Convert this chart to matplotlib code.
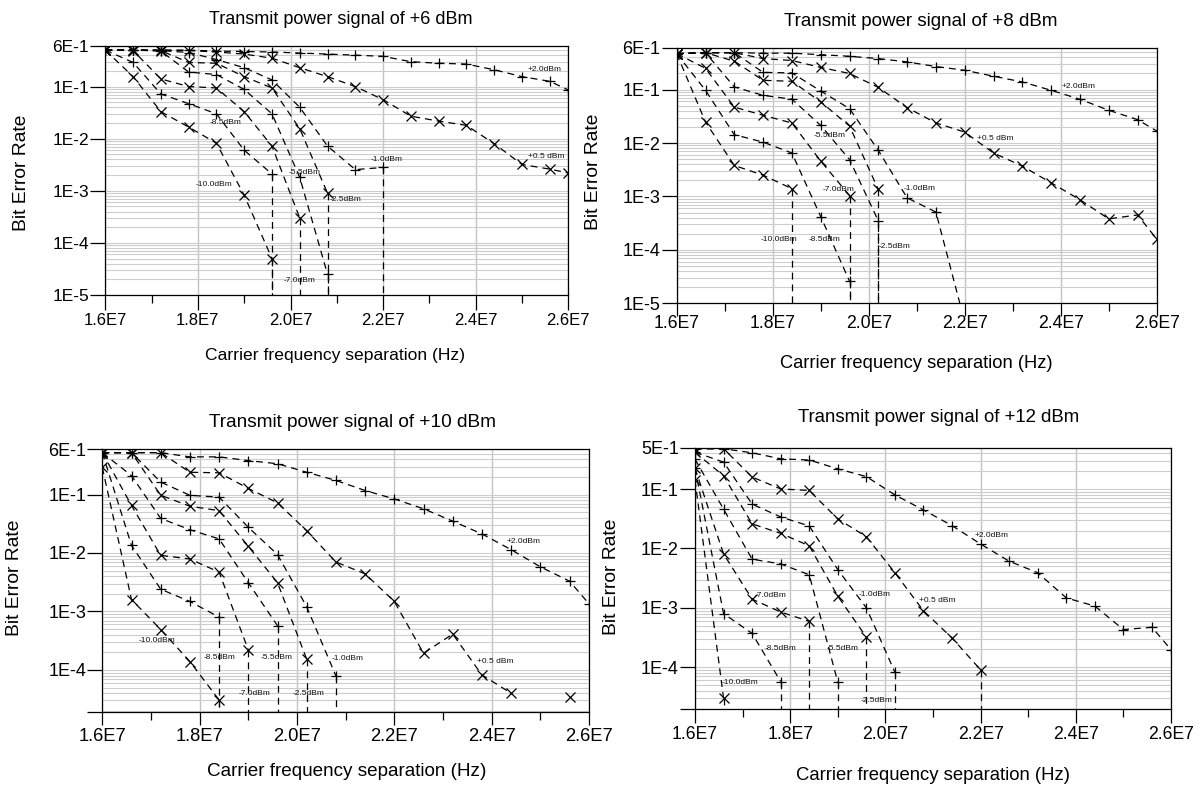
import numpy as np
import matplotlib
matplotlib.use("Agg")
import matplotlib.pyplot as plt
from matplotlib.ticker import FixedLocator, MultipleLocator, LogLocator, NullFormatter

plt.rcParams['font.family'] = ['Liberation Sans', 'DejaVu Sans']

# Carrier frequency separation sweep (Hz)
FREQ_HZ = [1.60e7, 1.66e7, 1.72e7, 1.78e7, 1.84e7, 1.90e7, 1.96e7, 2.02e7, 2.08e7,
           2.14e7, 2.20e7, 2.26e7, 2.32e7, 2.38e7, 2.44e7, 2.50e7, 2.56e7, 2.60e7]

# Interferer power of each curve, and its marker
POWER_LABELS = ["+2.0dBm", "+0.5 dBm", "-1.0dBm", "-2.5dBm",
                "-5.5dBm", "-7.0dBm", "-8.5dBm", "-10.0dBm"]
MARKERS = ["+", "x", "+", "x", "+", "x", "+", "x"]

X_TICKS = [1.6e7, 1.8e7, 2.0e7, 2.2e7, 2.4e7, 2.6e7]
X_TICK_LABELS = ["1.6E7", "1.8E7", "2.0E7", "2.2E7", "2.4E7", "2.6E7"]

# Bit error rate per curve; a curve that stops early fell to zero errors
BER_TX6 = [
    [0.50, 0.50, 0.50, 0.50, 0.48, 0.47, 0.46, 0.44, 0.42, 0.40, 0.38, 0.30, 0.28, 0.27, 0.21, 0.155, 0.126, 0.086],
    [0.50, 0.50, 0.50, 0.49, 0.46, 0.42, 0.35, 0.23, 0.155, 0.10, 0.056, 0.027, 0.0217, 0.018, 0.008, 0.0032, 0.0026, 0.0022],
    [0.50, 0.50, 0.49, 0.45, 0.33, 0.23, 0.134, 0.040, 0.0072, 0.00255, 0.0028],
    [0.50, 0.50, 0.49, 0.29, 0.28, 0.155, 0.094, 0.0155, 0.0009],
    [0.50, 0.50, 0.48, 0.19, 0.17, 0.088, 0.030, 0.0018, 2.5e-5],
    [0.50, 0.49, 0.14, 0.10, 0.094, 0.033, 0.0072, 0.0003],
    [0.50, 0.29, 0.072, 0.047, 0.030, 0.006, 0.0021],
    [0.50, 0.155, 0.033, 0.0167, 0.0082, 0.00082, 5e-5],
]
BER_TX8 = [
    [0.47, 0.49, 0.49, 0.48, 0.48, 0.45, 0.42, 0.38, 0.33, 0.27, 0.23, 0.178, 0.139, 0.097, 0.066, 0.041, 0.0274, 0.0168],
    [0.47, 0.49, 0.49, 0.38, 0.35, 0.26, 0.20, 0.11, 0.046, 0.0237, 0.016, 0.0065, 0.0037, 0.0018, 0.00087, 0.00038, 0.00045, 0.00016],
    [0.47, 0.49, 0.49, 0.21, 0.205, 0.094, 0.044, 0.0073, 0.00094, 0.00051, 4.5e-6],
    [0.47, 0.49, 0.34, 0.149, 0.143, 0.059, 0.0208, 0.00135],
    [0.47, 0.49, 0.112, 0.078, 0.066, 0.0214, 0.0049, 0.00035],
    [0.47, 0.25, 0.047, 0.033, 0.0237, 0.0046, 0.00104],
    [0.47, 0.097, 0.0143, 0.0104, 0.0065, 0.00042, 2.6e-5],
    [0.47, 0.0247, 0.0038, 0.0025, 0.0014],
]
BER_TX10 = [
    [0.52, 0.52, 0.52, 0.44, 0.44, 0.38, 0.336, 0.24, 0.174, 0.117, 0.084, 0.057, 0.035, 0.0212, 0.0114, 0.0058, 0.0033, 0.00135],
    [0.52, 0.52, 0.52, 0.24, 0.235, 0.127, 0.072, 0.024, 0.007, 0.0044, 0.00148, 0.000193, 0.00041, 8.2e-5, 4e-5, None, 3.5e-5, None],
    [0.52, 0.52, 0.163, 0.097, 0.09, 0.0275, 0.0094, 0.0012, 7.9e-5],
    [0.52, 0.52, 0.097, 0.063, 0.053, 0.013, 0.0031, 0.000152],
    [0.52, 0.21, 0.039, 0.025, 0.0174, 0.0031, 0.00057],
    [0.52, 0.065, 0.0091, 0.0079, 0.0047, 0.00022],
    [0.52, 0.0135, 0.0024, 0.00148, 0.0008],
    [0.29, 0.0016, 0.00049, 0.000139, 3.06e-5],
]
BER_TX12 = [
    [0.48, 0.48, 0.41, 0.325, 0.31, 0.22, 0.163, 0.08, 0.0446, 0.0243, 0.0119, 0.0061, 0.0039, 0.00147, 0.00107, 0.00043, 0.00047, 0.000197],
    [0.48, 0.48, 0.16, 0.101, 0.095, 0.0315, 0.0158, 0.0039, 0.00089, 0.00031, 9e-5],
    [0.42, 0.286, 0.056, 0.034, 0.024, 0.0044, 0.001, 8.2e-5],
    [0.42, 0.168, 0.026, 0.018, 0.0111, 0.00157, 0.00032],
    [0.32, 0.046, 0.0066, 0.0055, 0.0036, 5.6e-5],
    [0.226, 0.0081, 0.0014, 0.00085, 0.00059],
    [0.226, 0.0008, 0.00037, 5.7e-5],
    [0.143, 3e-5],
]

# Where each curve's name is written (frequency, BER)
LABEL_AT_TX6 = [(2.513e7, 0.21), (2.513e7, 0.0045), (2.172e7, 0.004), (2.085e7, 6.8e-4),
                (1.997e7, 0.0022), (1.986e7, 1.9e-5), (1.826e7, 0.0207), (1.796e7, 0.0013)]
LABEL_AT_TX8 = [(2.402e7, 0.112), (2.226e7, 0.0121), (2.073e7, 0.00143), (2.021e7, 1.18e-4),
                (1.885e7, 0.0139), (1.903e7, 0.00134), (1.875e7, 1.55e-4), (1.774e7, 1.55e-4)]
LABEL_AT_TX10 = [(2.43e7, 0.0158), (2.369e7, 1.39e-4), (2.071e7, 1.58e-4), (1.992e7, 3.9e-5),
                 (1.925e7, 1.6e-4), (1.881e7, 4e-5), (1.809e7, 1.6e-4), (1.674e7, 3.2e-4)]
LABEL_AT_TX12 = [(2.187e7, 0.0164), (2.071e7, 0.00134), (1.943e7, 0.0017), (1.947e7, 2.7e-5),
                 (1.877e7, 2.1e-4), (1.726e7, 0.0016), (1.747e7, 2.1e-4), (1.656e7, 5.5e-5)]

TITLES = ["Transmit power signal of +6 dBm", "Transmit power signal of +8 dBm",
          "Transmit power signal of +10 dBm", "Transmit power signal of +12 dBm"]
X_LABEL = "Carrier frequency separation (Hz)"
Y_LABEL = "Bit Error Rate"

W, H = 1204, 792
fig = plt.figure(figsize=(W / 100, H / 100), dpi=100)


def px_axes(left, right, top, bottom):
    return fig.add_axes([left / W, 1 - bottom / H, (right - left) / W, (bottom - top) / H])


def draw_panel(ax, ber_sets, label_at, ylim, yticks, yticklabels,
               xfs, yfs, xlen, xpad):
    for ber, name, marker, (lx, ly) in zip(ber_sets, POWER_LABELS, MARKERS, label_at):
        vals = np.array([np.nan if v is None else v for v in ber], dtype=float)
        xs = np.array(FREQ_HZ[:len(vals)])
        ax.plot(xs, vals, color="black", lw=0.9, dashes=(5.5, 4), marker=marker,
                ms=6.5, mew=0.9, zorder=3)
        # zero-error point: the curve falls straight off the log axis
        if len(vals) < len(FREQ_HZ) and vals[-1] >= ylim[0]:
            ax.plot([xs[-1], xs[-1]], [vals[-1], ylim[0]], color="black", lw=0.9,
                    dashes=(5.5, 4), zorder=3)
        ax.text(lx, ly, name, fontsize=6, ha="left", va="center", color="#111111", zorder=4)

    ax.set_yscale("log")
    ax.set_xlim(1.6e7, 2.6e7)
    ax.set_ylim(*ylim)
    ax.set_xticks(X_TICKS, X_TICK_LABELS)
    ax.xaxis.set_minor_locator(MultipleLocator(1e6))
    ax.yaxis.set_major_locator(FixedLocator(yticks))
    ax.set_yticklabels(yticklabels)
    ax.yaxis.set_minor_locator(LogLocator(base=10, subs=np.arange(2, 10)))
    ax.yaxis.set_minor_formatter(NullFormatter())
    ax.set_axisbelow(True)
    ax.grid(True, which="major", axis="x", color="#c4c4c4", lw=1.0)
    ax.grid(True, which="both", axis="y", color="#cdcdcd", lw=0.8)
    ax.tick_params(axis="y", which="major", length=10.5, width=0.9, pad=1.2, labelsize=yfs)
    ax.tick_params(axis="y", which="minor", length=0)
    ax.tick_params(axis="x", which="major", length=xlen, width=0.9, pad=xpad, labelsize=xfs)
    ax.tick_params(axis="x", which="minor", length=5.5, width=0.9)
    for sp in ax.spines.values():
        sp.set_color("black")
        sp.set_linewidth(0.9)


TOP_Y = [1e-5, 1e-4, 1e-3, 1e-2, 1e-1, 0.6]
TOP_Y_LABELS = ["1E-5", "1E-4", "1E-3", "1E-2", "1E-1", "6E-1"]

ax1 = px_axes(105.3, 568.3, 46, 295)
draw_panel(ax1, BER_TX6, LABEL_AT_TX6, (1e-5, 0.6), TOP_Y, TOP_Y_LABELS,
           12, 12.5, 10.5, 2.8)
ax2 = px_axes(676.7, 1156.7, 48, 303.3)
draw_panel(ax2, BER_TX8, LABEL_AT_TX8, (1e-5, 0.6), TOP_Y, TOP_Y_LABELS,
           12.7, 13, 9.5, -0.8)
ax3 = px_axes(102.3, 589, 449, 711.7)
draw_panel(ax3, BER_TX10, LABEL_AT_TX10, (1.93e-5, 0.6),
           [1.93e-5, 1e-4, 1e-3, 1e-2, 1e-1, 0.6], ["", "1E-4", "1E-3", "1E-2", "1E-1", "6E-1"],
           13.2, 13, 9.6, 2.3)
ax4 = px_axes(695, 1171, 447.7, 709)
draw_panel(ax4, BER_TX12, LABEL_AT_TX12, (1.97e-5, 0.5),
           [1.97e-5, 1e-4, 1e-3, 1e-2, 1e-1, 0.5], ["", "1E-4", "1E-3", "1E-2", "1E-1", "5E-1"],
           12.7, 13, 10, 2.2)


# Titles and axis labels, placed in figure pixels
def ftext(x, y, s, size, rot=0):
    fig.text(x / W, 1 - y / H, s, fontsize=size, ha="center", va="center", rotation=rot)


ftext(340.5, 19.5, TITLES[0], 13)
ftext(920.5, 21, TITLES[1], 13.5)
ftext(352.5, 422, TITLES[2], 13.7)
ftext(938.5, 417, TITLES[3], 13.4)

ftext(335, 355, X_LABEL, 12.6)
ftext(916, 364, X_LABEL, 13.2)
ftext(347, 772, X_LABEL, 13.6)
ftext(933, 775, X_LABEL, 13.3)

ftext(22, 173, Y_LABEL, 13.9, 90)
ftext(593, 172, Y_LABEL, 13.9, 90)
ftext(15, 578, Y_LABEL, 13.9, 90)
ftext(611, 577, Y_LABEL, 13.9, 90)

fig.savefig("out.png", dpi=100)
